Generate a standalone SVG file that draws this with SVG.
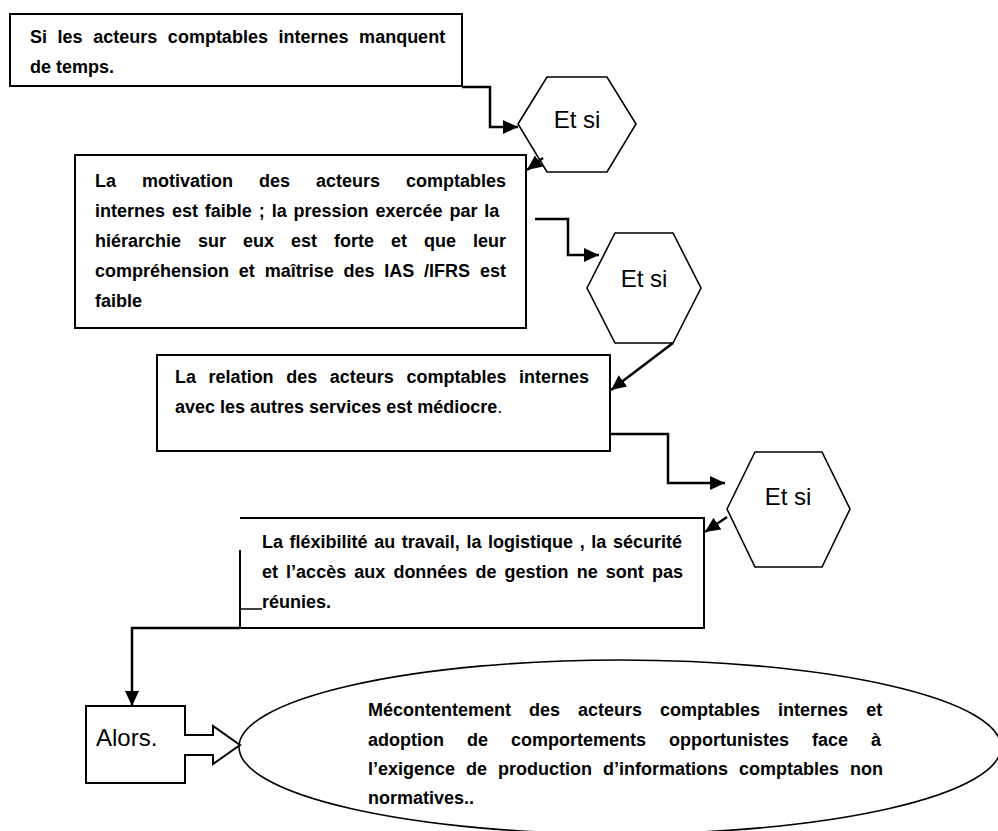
<svg xmlns="http://www.w3.org/2000/svg" width="998" height="831" viewBox="0 0 998 831">
<style>
.box{fill:#fff;stroke:#000;stroke-width:2}
.hex{fill:#fff;stroke:#000;stroke-width:1.6}
.t{font-family:"Liberation Sans",Arial,sans-serif;font-size:18px;font-weight:bold;fill:#000}
.n{font-weight:normal}
.h{font-family:"Liberation Sans",Arial,sans-serif;font-size:24px;fill:#000;text-anchor:middle}
.c{fill:none;stroke:#000;stroke-width:2.5}
.thin{fill:none;stroke:#000;stroke-width:1.5}
</style>
<defs>
<marker id="ah" markerUnits="userSpaceOnUse" markerWidth="16" markerHeight="16" viewBox="0 0 16 16" refX="15" refY="8" orient="auto">
<path d="M0,1 L15,8 L0,15 Z" fill="#000"/>
</marker>
</defs>
<rect width="998" height="831" fill="#fff"/>

<g id="node-ellipse">
<ellipse cx="620" cy="747" rx="381" ry="87" fill="#fff" stroke="#000" stroke-width="1.6"/>
<text class="t" x="368" y="716" style="word-spacing:13px">Mécontentement des acteurs comptables internes et</text>
<text class="t" x="368" y="746" style="word-spacing:18px">adoption de comportements opportunistes face à</text>
<text class="t" x="368" y="775" style="word-spacing:6px">l’exigence de production d’informations comptables non</text>
<text class="t" x="368" y="804">normatives..</text>
</g>

<g id="node-box1">
<rect class="box" x="10" y="14" width="452" height="72"/>
<text class="t" x="30" y="43" style="word-spacing:5.6px">Si les acteurs comptables internes manquent</text>
<text class="t" x="30" y="73">de temps.</text>
</g>

<g id="node-hex1">
<polygon class="hex" points="518,124 547,77 607,77 636,124 607,172 547,172"/>
<text class="h" x="577" y="128">Et si</text>
</g>

<g id="node-box2">
<rect class="box" x="75" y="155" width="451" height="173"/>
<text class="t" x="95" y="187" style="word-spacing:21px">La motivation des acteurs comptables</text>
<text class="t" x="95" y="217" style="word-spacing:1.9px">internes est faible ; la pression exercée par la</text>
<text class="t" x="95" y="247" style="word-spacing:12px">hiérarchie sur eux est forte et que leur</text>
<text class="t" x="95" y="277" style="word-spacing:4.8px">compréhension et maîtrise des IAS /IFRS est</text>
<text class="t" x="95" y="307">faible</text>
</g>

<g id="node-hex2">
<polygon class="hex" points="587,288 615,233 673,233 701,288 673,343 615,343"/>
<text class="h" x="644" y="287">Et si</text>
</g>

<g id="node-box3">
<rect class="box" x="157" y="355" width="453" height="96"/>
<text class="t" x="175" y="383" style="word-spacing:7.6px">La relation des acteurs comptables internes</text>
<text class="t" x="175" y="413">avec les autres services est médiocre<tspan class="n">.</tspan></text>
</g>

<g id="node-hex3">
<polygon class="hex" points="727,509 755,452 822,452 850,509 822,567 755,567"/>
<text class="h" x="788" y="505">Et si</text>
</g>

<g id="node-box4">
<path class="box" d="M240,550 V628 H704 V518 H240" />
<text class="t" x="262" y="548" style="word-spacing:1.6px">La fléxibilité au travail, la logistique , la sécurité</text>
<text class="t" x="262" y="578" style="word-spacing:3.1px">et l’accès aux données de gestion ne sont pas</text>
<text class="t" x="262" y="608">réunies.</text>
</g>

<g id="node-alors">
<path class="box" d="M86,706 H185 V735 H213 V726 L240,745 L213,764 V755 H185 V783 H86 Z" stroke-width="1.8"/>
<text class="h" x="96" y="746" style="text-anchor:start">Alors.</text>
</g>

<g id="connectors">
<path class="c" d="M462,87 H490 V127 H518" marker-end="url(#ah)"/>
<path class="c" d="M543,158 L527,170" marker-end="url(#ah)"/>
<path class="c" d="M535,219 H568 V255 H599" marker-end="url(#ah)"/>
<path class="c" d="M673,343 L611,390" marker-end="url(#ah)"/>
<path class="c" d="M610,434 H668 V483 H725" marker-end="url(#ah)"/>
<path class="c" d="M727,517 L705,532" marker-end="url(#ah)"/>
<path class="thin" d="M240,609 H262"/>
<path class="c" d="M240,628 H132 V706" marker-end="url(#ah)"/>
</g>
</svg>
